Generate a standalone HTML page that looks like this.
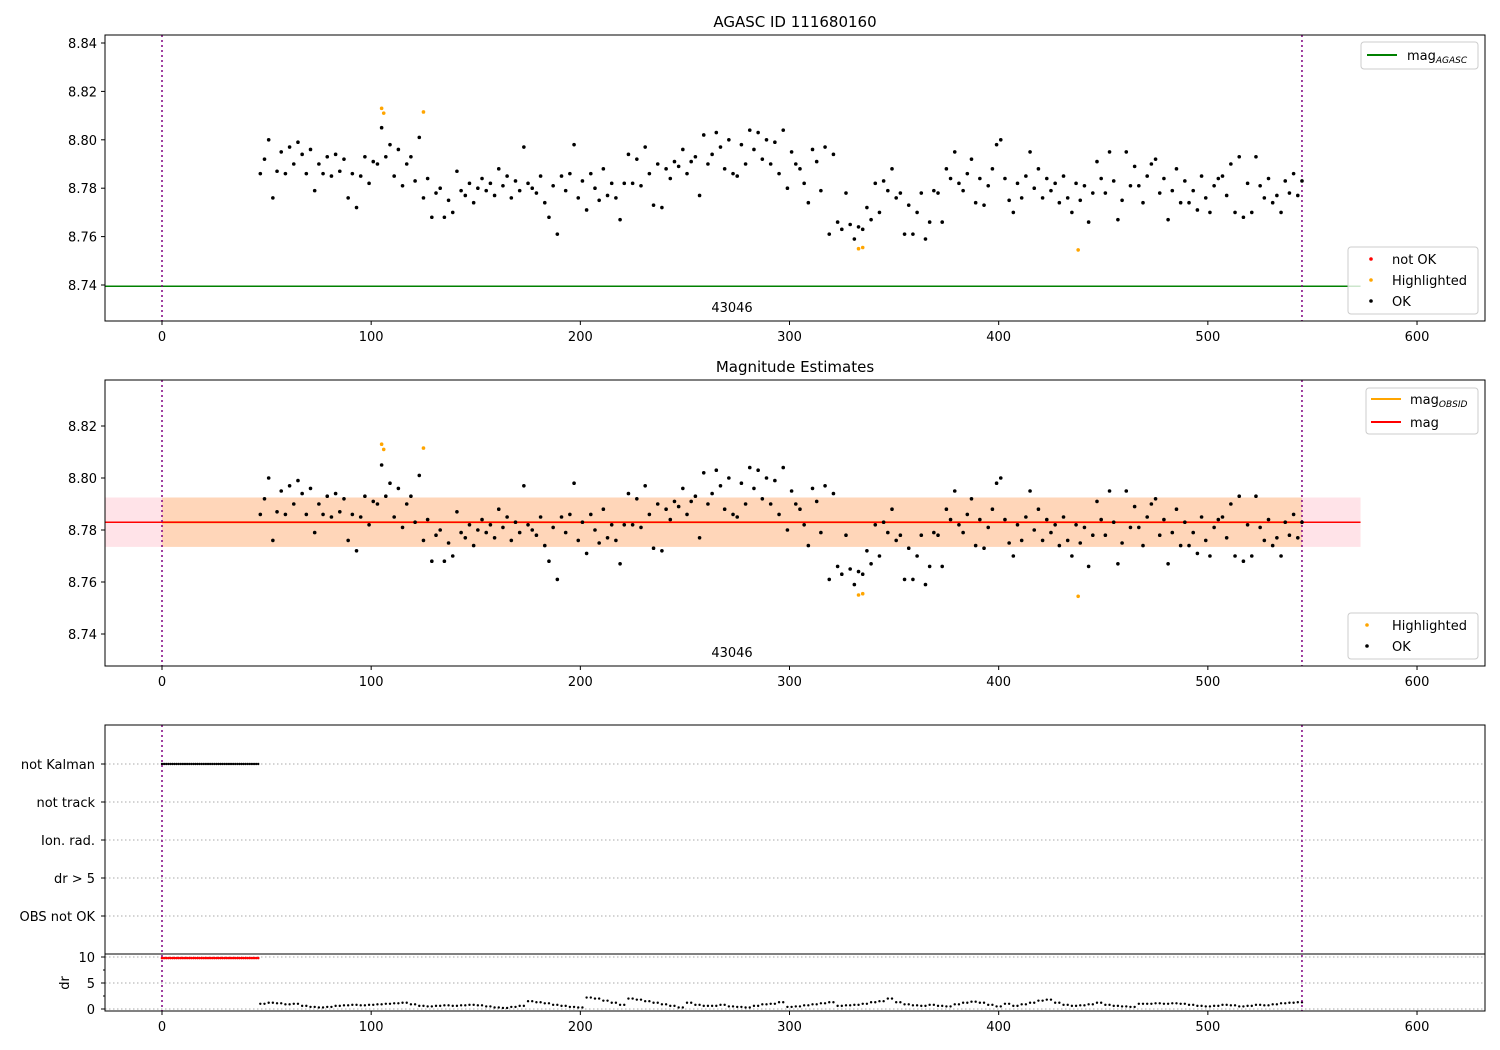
<!DOCTYPE html>
<html><head><meta charset="utf-8"><style>
body{margin:0;background:#fff}
svg{display:block;font-family:"DejaVu Sans","Liberation Sans",sans-serif}
</style></head><body>
<svg id="c" width="1500" height="1050" viewBox="0 0 1500 1050" xmlns="http://www.w3.org/2000/svg"></svg>
<script>
const magX0 = 47, magStep = 2;
const magValues = [
8.786,8.792,8.800,8.776,8.787,8.795,8.786,8.797,8.790,8.799,
8.794,8.786,8.796,8.779,8.790,8.786,8.793,8.785,8.794,8.787,
8.792,8.776,8.786,8.772,8.785,8.793,8.782,8.791,8.790,8.805,
8.793,8.798,8.785,8.796,8.781,8.790,8.793,8.783,8.801,8.776,
8.784,8.768,8.778,8.780,8.768,8.775,8.770,8.787,8.779,8.777,
8.782,8.774,8.780,8.784,8.779,8.782,8.777,8.788,8.781,8.785,
8.776,8.783,8.779,8.797,8.782,8.780,8.778,8.785,8.774,8.768,
8.781,8.761,8.785,8.779,8.786,8.798,8.776,8.783,8.771,8.786,
8.780,8.775,8.788,8.777,8.782,8.776,8.767,8.782,8.794,8.782,
8.792,8.781,8.797,8.786,8.773,8.790,8.772,8.788,8.784,8.791,
8.789,8.796,8.786,8.791,8.793,8.777,8.802,8.790,8.794,8.803,
8.797,8.788,8.800,8.786,8.785,8.798,8.790,8.804,8.796,8.803,
8.792,8.800,8.790,8.799,8.786,8.804,8.780,8.795,8.790,8.788,
8.782,8.774,8.796,8.791,8.779,8.797,8.761,8.794,8.766,8.763,
8.778,8.765,8.759,8.764,8.763,8.772,8.767,8.782,8.770,8.783,
8.779,8.788,8.776,8.778,8.761,8.773,8.761,8.770,8.778,8.759,
8.766,8.779,8.778,8.766,8.788,8.784,8.795,8.782,8.779,8.786,
8.792,8.774,8.784,8.773,8.781,8.788,8.798,8.800,8.784,8.775,
8.770,8.782,8.776,8.785,8.795,8.780,8.788,8.776,8.784,8.779,
8.782,8.774,8.785,8.776,8.770,8.782,8.775,8.781,8.766,8.778,
8.791,8.784,8.778,8.795,8.783,8.767,8.775,8.795,8.781,8.789,
8.781,8.774,8.785,8.790,8.792,8.778,8.784,8.767,8.779,8.788,
8.774,8.783,8.774,8.779,8.771,8.785,8.776,8.770,8.781,8.784,
8.785,8.777,8.790,8.770,8.793,8.768,8.782,8.770,8.793,8.781,
8.776,8.784,8.774,8.777,8.770,8.783,8.778,8.786,8.777,8.783];
const hlTimes = [105,106,125,333,335,438];
const hlValues = [8.813,8.811,8.8115,8.755,8.7555,8.7545];
const drX0 = 47, drStep = 4;
const drValues = [
1.0,1.2,1.1,0.9,1.0,0.6,0.4,0.3,0.4,0.6,
0.7,0.8,0.7,0.8,0.9,1.0,1.1,1.2,0.9,0.6,
0.5,0.6,0.7,0.6,0.7,0.8,0.7,0.5,0.3,0.2,
0.4,0.6,1.5,1.3,1.1,0.8,0.6,0.4,0.3,2.2,
2.0,1.6,1.2,0.8,2.0,1.8,1.5,1.2,0.9,0.6,
0.3,1.2,0.8,0.6,0.6,0.8,0.5,0.4,0.3,0.6,
0.9,1.0,1.3,0.4,0.5,0.7,0.9,1.1,1.3,0.6,
0.7,0.8,1.0,1.3,1.5,2.0,1.3,0.9,0.7,0.6,
0.8,0.6,0.5,0.9,1.2,1.4,1.2,0.8,0.5,1.0,
0.6,0.9,1.2,1.6,1.8,1.2,0.8,0.6,0.7,0.9,
1.2,0.8,0.6,0.5,0.4,1.0,1.0,1.1,1.0,1.1,
1.0,0.8,0.6,0.5,0.6,0.8,0.7,0.5,0.6,0.8,
0.7,0.9,1.1,1.2,1.3];
const flagLabels = ["not Kalman","not track","Ion. rad.","dr > 5","OBS not OK"];
const flagStart = 0, flagEnd = 46;
const yTicksMag = [8.74,8.76,8.78,8.80,8.82,8.84];
const yTicksMag2 = [8.74,8.76,8.78,8.80,8.82];
const xTicks = [0,100,200,300,400,500,600];
const magAgasc = 8.7395, magMean = 8.783, magStd = 0.0095;
const obsStart = 0, obsEnd = 545, lineEnd = 573;

const svg = document.getElementById('c');
const NS = 'http://www.w3.org/2000/svg';
function mk(tag, at, parent){const e=document.createElementNS(NS,tag);for(const k in at)e.setAttribute(k,at[k]);(parent||svg).appendChild(e);return e;}
function txt(s,at,parent){const e=mk('text',at,parent);e.textContent=s;return e;}
const L=105,R=1485;
const sx = v => 162 + (v)*2.0917;

function panel(top,bot,y0v,ypx0,y1v,ypx1,name){
  const g=mk('g',{});
  
  
  const sy=v=>ypx0+(v-y0v)*(ypx1-ypx0)/(y1v-y0v);
  return {g,sy,top,bot};
}
function frame(p){mk('rect',{x:L,y:p.top,width:R-L,height:p.bot-p.top,fill:'none',stroke:'#000','stroke-width':1},p.g);}
function xaxis(p){
  const g=mk('g',{},p.g);
  
  
  xTicks.forEach(t=>{const x=sx(t);mk('line',{x1:x,x2:x,y1:p.bot,y2:p.bot+4,stroke:'#000'},g);txt(String(t),{x:x,y:p.bot+20,'font-size':13,'text-anchor':'middle'},g);});
}
function yaxis(p,ticks){
  const g=mk('g',{},p.g);
  
  
  ticks.forEach(t=>{const y=p.sy(t);mk('line',{x1:L-4,x2:L,y1:y,y2:y,stroke:'#000'},g);txt(t.toFixed(2),{x:L-8,y:y+5,'font-size':13,'text-anchor':'end'},g);});
}
function vlines(p){
  [obsStart,obsEnd].forEach(v=>{const l=mk('line',{x1:sx(v),x2:sx(v),y1:p.top,y2:p.bot,stroke:'#800080','stroke-width':1.5,'stroke-dasharray':'2,3'},p.g);
  });
}
function points(p,name){
  const g=mk('g',{},p.g);
  
  
  magValues.forEach((v,i)=>{mk('circle',{cx:sx(magX0+i*magStep),cy:p.sy(v),r:1.8,fill:'#000'},g);});
  const h=mk('g',{},p.g);
  
  
  hlValues.forEach((v,i)=>{mk('circle',{cx:sx(hlTimes[i]),cy:p.sy(v),r:1.8,fill:'orange'},h);});
}
function legendBox(x,y,w,h,parent,name){const g=mk('g',{},parent);
  mk('rect',{x,y,width:w,height:h,rx:3,fill:'#fff','fill-opacity':0.8,stroke:'#ccc'},g);return g;}

// ---- Panel 1
const p1=panel(35,321,8.74,285,8.84,43,'agasc-panel');
txt('AGASC ID 111680160',{x:795,y:27,'font-size':15,'text-anchor':'middle'},p1.g);
mk('line',{x1:L,x2:sx(lineEnd),y1:p1.sy(magAgasc),y2:p1.sy(magAgasc),stroke:'green','stroke-width':1.5},p1.g);
vlines(p1);points(p1,'ok-points');
txt('43046',{x:732,y:312,'font-size':13,'text-anchor':'middle'},p1.g);
frame(p1);xaxis(p1);yaxis(p1,yTicksMag);
let lg=legendBox(1361,42,117,27,p1.g,'legend-agasc');
mk('line',{x1:1367,x2:1397,y1:55,y2:55,stroke:'green','stroke-width':2},lg);
const t1=txt('mag',{x:1407,y:60,'font-size':13},lg);const s1=mk('tspan',{'font-size':9,'font-style':'italic',dy:3},t1);s1.textContent='AGASC';
lg=legendBox(1348,247,130,67,p1.g,'legend-status');
mk('circle',{cx:1371,cy:259,r:1.8,fill:'red'},lg);txt('not OK',{x:1392,y:264,'font-size':13},lg);
mk('circle',{cx:1371,cy:280,r:1.8,fill:'orange'},lg);txt('Highlighted',{x:1392,y:285,'font-size':13},lg);
mk('circle',{cx:1371,cy:301,r:1.8,fill:'#000'},lg);txt('OK',{x:1392,y:306,'font-size':13},lg);

// ---- Panel 2
const p2=panel(380,666,8.74,634,8.82,426,'magnitude-panel');
txt('Magnitude Estimates',{x:795,y:372,'font-size':15,'text-anchor':'middle'},p2.g);
mk('rect',{x:L,y:p2.sy(magMean+magStd),width:sx(lineEnd)-L,height:p2.sy(magMean-magStd)-p2.sy(magMean+magStd),fill:'#ffc0cb','fill-opacity':0.45},p2.g);
mk('rect',{x:sx(obsStart),y:p2.sy(magMean+magStd),width:sx(obsEnd)-sx(obsStart),height:p2.sy(magMean-magStd)-p2.sy(magMean+magStd),fill:'#ffa500','fill-opacity':0.2},p2.g);
mk('line',{x1:sx(obsStart),x2:sx(obsEnd),y1:p2.sy(magMean),y2:p2.sy(magMean),stroke:'orange','stroke-width':2},p2.g);
mk('line',{x1:L,x2:sx(lineEnd),y1:p2.sy(magMean),y2:p2.sy(magMean),stroke:'red','stroke-width':1.5},p2.g);
vlines(p2);points(p2,'ok-points-2');
txt('43046',{x:732,y:657,'font-size':13,'text-anchor':'middle'},p2.g);
frame(p2);xaxis(p2);yaxis(p2,yTicksMag2);
lg=legendBox(1366,388,112,46,p2.g,'legend-mag');
mk('line',{x1:1371,x2:1401,y1:399,y2:399,stroke:'orange','stroke-width':2},lg);
const t2=txt('mag',{x:1410,y:404,'font-size':13},lg);const s2=mk('tspan',{'font-size':9,'font-style':'italic',dy:3},t2);s2.textContent='OBSID';
mk('line',{x1:1371,x2:1401,y1:422,y2:422,stroke:'red','stroke-width':2},lg);txt('mag',{x:1410,y:427,'font-size':13},lg);
lg=legendBox(1348,613,130,46,p2.g,'legend-status-2');
mk('circle',{cx:1367,cy:625,r:1.8,fill:'orange'},lg);txt('Highlighted',{x:1392,y:630,'font-size':13},lg);
mk('circle',{cx:1367,cy:646,r:1.8,fill:'#000'},lg);txt('OK',{x:1392,y:651,'font-size':13},lg);

// ---- Panel 3
const p3={g:mk('g',{}),top:725,bot:1011};


const flagY=i=>764+i*38;
flagLabels.forEach((lab,i)=>{const y=flagY(i);
  mk('line',{x1:L,x2:R,y1:y,y2:y,stroke:'#aaa','stroke-dasharray':'1.5,2.5'},p3.g);
  mk('line',{x1:L-4,x2:L,y1:y,y2:y,stroke:'#000'},p3.g);
  const t=txt(lab,{x:L-10,y:y+5,'font-size':13,'text-anchor':'end'},p3.g);
  });
const kal=mk('g',{},p3.g);


for(let t=flagStart;t<=flagEnd;t++)mk('circle',{cx:sx(t),cy:flagY(0),r:1.2,fill:'#000'},kal);
const dy=v=>1009-v*5.2;
[0,5,10].forEach(v=>{mk('line',{x1:L,x2:R,y1:dy(v),y2:dy(v),stroke:'#aaa','stroke-dasharray':'1.5,2.5'},p3.g);
  mk('line',{x1:L-4,x2:L,y1:dy(v),y2:dy(v),stroke:'#000'},p3.g);txt(String(v),{x:L-10,y:dy(v)+5,'font-size':13,'text-anchor':'end'},p3.g);});
[2.5,7.5].forEach(v=>mk('line',{x1:L-2,x2:L,y1:dy(v),y2:dy(v),stroke:'#000'},p3.g));
txt('dr',{x:0,y:0,'font-size':13,'text-anchor':'middle',transform:'translate(69,983) rotate(-90)'},p3.g);
const red=mk('g',{},p3.g);


for(let t=flagStart;t<=flagEnd;t++)mk('circle',{cx:sx(t),cy:dy(9.8),r:1.3,fill:'red'},red);
const drg=mk('g',{},p3.g);


drValues.forEach((v,i)=>{for(let k=0;k<drStep;k+=2)mk('circle',{cx:sx(drX0+i*drStep+k),cy:dy(v),r:1.2,fill:'#000'},drg);});
mk('line',{x1:L,x2:R,y1:954,y2:954,stroke:'#000'},p3.g);
vlines(p3);
frame(p3);xaxis(p3);
</script>
</body></html>
